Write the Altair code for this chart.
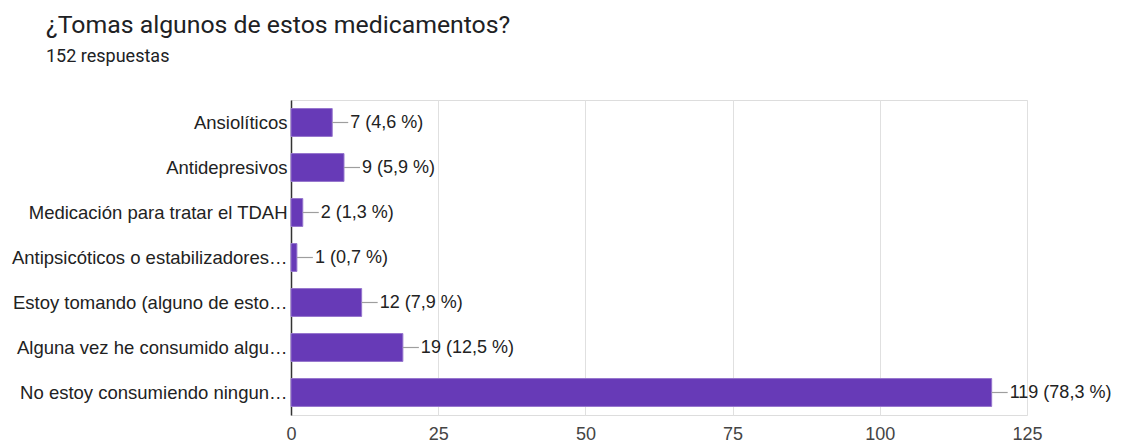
import altair as alt
import pandas as pd

categories = [
    "Ansiolíticos",
    "Antidepresivos",
    "Medicación para tratar el TDAH",
    "Antipsicóticos o estabilizadores…",
    "Estoy tomando (alguno de esto…",
    "Alguna vez he consumido algu…",
    "No estoy consumiendo ningun…",
]
counts = [7, 9, 2, 1, 12, 19, 119]
labels = ["7 (4,6 %)", "9 (5,9 %)", "2 (1,3 %)", "1 (0,7 %)", "12 (7,9 %)", "19 (12,5 %)", "119 (78,3 %)"]
x_ticks = [0, 25, 50, 75, 100, 125]

df = pd.DataFrame({"cat": categories, "n": counts, "lab": labels})

TFONT = "Roboto"
FONT = "Liberation Sans"

y = alt.Y("cat:N", sort=categories, title=None,
          scale=alt.Scale(paddingInner=0.38, paddingOuter=0.19),
          axis=alt.Axis(domainColor="#333333", domainWidth=1.5, ticks=False,
                        labelFontSize=18.5, labelColor="#222222", labelFont=FONT,
                        labelPadding=4, labelLimit=400, grid=False))
x = alt.X("n:Q", title=None,
          scale=alt.Scale(domain=[0, 125], nice=False),
          axis=alt.Axis(values=x_ticks, domain=False, ticks=False, grid=True,
                        gridColor="#e0e0e0", labelFontSize=18, labelColor="#444444",
                        labelFont=FONT, labelPadding=10, labelFlush=False))

base = alt.Chart(df)

bars = base.mark_bar(color="#673ab7", stroke="#9575cd", strokeWidth=1).encode(x=x, y=y)
conn = base.mark_rule(color="#9e9e9e", strokeWidth=1.2, x2Offset=16).encode(
    x="n:Q", x2="n:Q", y=alt.Y("cat:N", sort=categories))
txt = base.mark_text(align="left", baseline="middle", dx=18, fontSize=18,
                     color="#222222", font=FONT).encode(
    x="n:Q", y=alt.Y("cat:N", sort=categories), text="lab:N")

chart = (bars + conn + txt).properties(
    width=736, height=315,
    title=alt.TitleParams(
        text="¿Tomas algunos de estos medicamentos?",
        subtitle="152 respuestas",
        anchor="start", frame="group", dx=-245, dy=0,
        font=TFONT, fontSize=24.8, fontWeight="normal", color="#202124",
        subtitleFont=TFONT, subtitleFontSize=18, subtitleColor="#202124",
        subtitlePadding=10, offset=34,
    ),
    autosize=alt.AutoSizeParams(type="none"),
    padding={"left": 291, "top": 100, "right": 94, "bottom": 30},
).configure_view(stroke="#e0e0e0", strokeWidth=1).configure(background="white")

chart.save("out.html", embed_options={"renderer": "svg", "actions": False})
